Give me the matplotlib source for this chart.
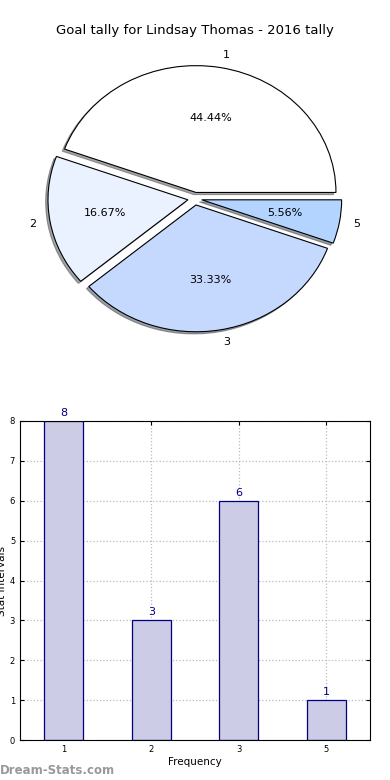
import matplotlib
matplotlib.use('Agg')
import matplotlib.pyplot as plt

# ------ data ---------------------------
goal_labels = ['1', '2', '3', '5']
goal_counts = [8, 3, 6, 1]
pie_colors = ['#ffffff', '#eaf1ff', '#c5d9ff', '#b3d4ff']
title = 'Goal tally for Lindsay Thomas - 2016 tally'
# ---------------------------------------

fig = plt.figure(figsize=(3.9, 7.8), dpi=100)

# ------ pie ----------------------------
ax1 = fig.add_axes([0.051, 0.542, 0.897, 0.4065])
wedges, texts, autotexts = ax1.pie(goal_counts, labels=goal_labels, colors=pie_colors,
	explode=[0.05] * len(goal_counts), shadow={'ox': -0.012, 'oy': -0.012}, startangle=0,
	autopct='%.2f%%', wedgeprops={'linewidth': 0.8, 'edgecolor': 'black'},
	textprops={'fontsize': 8})
ax1.set_aspect('auto')
ax1.set_xlim(-1.25, 1.25)
ax1.set_ylim(-1.25, 1.25)
fig.text(0.5, 0.961, title, ha='center', va='center', fontsize=9.5)

# ------ bars ---------------------------
ax2 = fig.add_axes([20 / 390, 40 / 780, 350 / 390, 319 / 780])
xpos = list(range(len(goal_labels)))
bars = ax2.bar(xpos, goal_counts, width=0.45, color='#ccccE6', edgecolor='#000080', linewidth=0.9, zorder=2)
for x, v in zip(xpos, goal_counts):
	ax2.text(x, v + 0.08, str(v), ha='center', va='bottom', color='#000080', fontsize=8)
ax2.set_xlim(-0.5, 3.5)
ax2.set_ylim(0, 8)
ax2.set_xticks(xpos)
ax2.set_xticklabels(goal_labels)
ax2.set_yticks(range(0, 9))
ax2.tick_params(labelsize=6, direction='in', top=True, right=True, length=3)
ax2.grid(True, linestyle=':', color='#bbbbbb', linewidth=0.9, zorder=0)
ax2.set_xlabel('Frequency', fontsize=7.5, labelpad=2)
ax2.set_ylabel('Stat Intervals', fontsize=7.5, labelpad=2)

fig.text(0.0, 0.012, 'Dream-Stats.com', color='#999999', fontsize=8.5, fontweight='bold', ha='left', va='center')

plt.savefig('out.png', dpi=100)
